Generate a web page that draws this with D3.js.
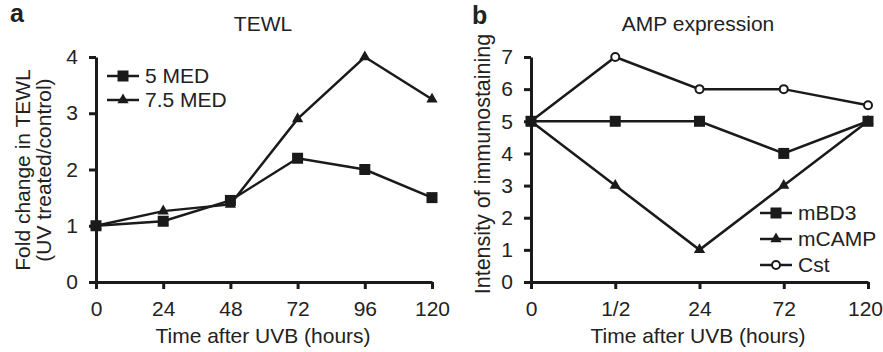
<!DOCTYPE html>
<html>
<head>
<meta charset="utf-8">
<script src="https://cdn.jsdelivr.net/npm/d3@7"></script>
<style>
  body { margin: 0; background: #fff; }
  svg text { font-family: "Liberation Sans", Arial, sans-serif; fill: #222; }
</style>
</head>
<body>
<svg id="chart" width="883" height="352"></svg>
<script>
// panel a data
const hoursA = [0, 24, 48, 72, 96, 120];
const med5 = [1, 1.08, 1.45, 2.2, 2.0, 1.5];
const med75 = [1, 1.26, 1.38, 2.9, 4.0, 3.25];
const ticksA = [0, 1, 2, 3, 4];

// panel b data
const timesB = ['0', '1/2', '24', '72', '120'];
const mBD3 = [5, 5, 5, 4, 5];
const mCAMP = [5, 3, 1, 3, 5];
const cst = [5, 7, 6, 6, 5.5];
const ticksB = [0, 1, 2, 3, 4, 5, 6, 7];

const svg = d3.select('#chart');
const fs = 21;
const stroke = '#1a1a1a';

function drawMarker(g, type, cx, cy) {
    if (type === 'square') {
        g.append('rect').attr('x', cx - 5.5).attr('y', cy - 5.5).attr('width', 11).attr('height', 11)
            .attr('fill', stroke);
    } else if (type === 'triangle') {
        g.append('path').attr('d', d3.symbol().type(d3.symbolTriangle).size(55)())
            .attr('transform', `translate(${cx},${cy})`).attr('fill', stroke);
    } else {
        g.append('circle').attr('cx', cx).attr('cy', cy).attr('r', 4)
            .attr('fill', '#fff').attr('stroke', stroke).attr('stroke-width', 2);
    }
}

function styleAxis(sel) {
    sel.select('.domain').attr('stroke', stroke).attr('stroke-width', 3);
    sel.selectAll('.tick line').attr('stroke', stroke).attr('stroke-width', 3);
    sel.selectAll('.tick text').style('font-size', fs + 'px').attr('fill', '#222');
}

function drawSeries(g, xs, ys, x, y, type) {
    const line = d3.line().x((d, i) => x(xs[i])).y(d => y(d));
    g.append('path').datum(ys).attr('d', line)
        .attr('fill', 'none').attr('stroke', stroke).attr('stroke-width', 2.5);
    ys.forEach((v, i) => drawMarker(g, type, x(xs[i]), y(v)));
}

function legendItem(g, type, lx, ly, label) {
    g.append('line').attr('x1', lx).attr('x2', lx + 32).attr('y1', ly).attr('y2', ly)
        .attr('stroke', stroke).attr('stroke-width', 2.5);
    drawMarker(g, type, lx + 16, ly);
    g.append('text').attr('x', lx + 38).attr('y', ly).attr('dy', '0.35em')
        .style('font-size', fs + 'px').text(label);
}

const fmt = d3.format('d');

// ---------- panel a ----------
const xA = d3.scaleLinear().domain([0, 120]).range([96, 432]);
const yA = d3.scaleLinear().domain([0, 4]).range([282, 57]);
const gA = svg.append('g');

gA.append('g').attr('transform', 'translate(0,282)')
    .call(d3.axisBottom(xA).tickValues(hoursA).tickFormat(fmt).tickSize(7).tickSizeOuter(0).tickPadding(12))
    .call(styleAxis);
gA.append('g').attr('transform', 'translate(96,0)')
    .call(d3.axisLeft(yA).tickValues(ticksA).tickFormat(fmt).tickSize(7).tickSizeOuter(0).tickPadding(11))
    .call(styleAxis);

drawSeries(gA, hoursA, med75, xA, yA, 'triangle');
drawSeries(gA, hoursA, med5, xA, yA, 'square');

legendItem(gA, 'square', 107, 76, '5 MED');
legendItem(gA, 'triangle', 107, 100, '7.5 MED');

gA.append('text').attr('x', 263).attr('y', 31).attr('text-anchor', 'middle')
    .style('font-size', fs + 'px').text('TEWL');
gA.append('text').attr('x', 10).attr('y', 22).style('font-size', '25px')
    .style('font-weight', 'bold').text('a');
gA.append('text').attr('x', 263).attr('y', 343).attr('text-anchor', 'middle')
    .style('font-size', fs + 'px').text('Time after UVB (hours)');
gA.append('text').attr('transform', 'translate(30,170) rotate(-90)').attr('text-anchor', 'middle')
    .style('font-size', fs + 'px').text('Fold change in TEWL');
gA.append('text').attr('transform', 'translate(51,170) rotate(-90)').attr('text-anchor', 'middle')
    .style('font-size', fs + 'px').text('(UV treated/control)');

// ---------- panel b ----------
const xB = d3.scalePoint().domain(timesB).range([531, 868]);
const yB = d3.scaleLinear().domain([0, 7]).range([282, 57]);
const gB = svg.append('g');

const xAxisB = gB.append('g').attr('transform', 'translate(0,282)')
    .call(d3.axisBottom(xB).tickSize(7).tickSizeOuter(0).tickPadding(12))
    .call(styleAxis);
// keep the last label inside the page
xAxisB.selectAll('.tick text').filter(d => d === '120').attr('dx', -3);
gB.append('g').attr('transform', 'translate(531,0)')
    .call(d3.axisLeft(yB).tickValues(ticksB).tickFormat(fmt).tickSize(7).tickSizeOuter(0).tickPadding(11))
    .call(styleAxis);

drawSeries(gB, timesB, cst, xB, yB, 'circle');
drawSeries(gB, timesB, mCAMP, xB, yB, 'triangle');
drawSeries(gB, timesB, mBD3, xB, yB, 'square');

legendItem(gB, 'square', 760, 213, 'mBD3');
legendItem(gB, 'triangle', 760, 239, 'mCAMP');
legendItem(gB, 'circle', 760, 265, 'Cst');

gB.append('text').attr('x', 698).attr('y', 31).attr('text-anchor', 'middle')
    .style('font-size', fs + 'px').text('AMP expression');
gB.append('text').attr('x', 472).attr('y', 24).style('font-size', '25px')
    .style('font-weight', 'bold').text('b');
gB.append('text').attr('x', 698).attr('y', 343).attr('text-anchor', 'middle')
    .style('font-size', fs + 'px').text('Time after UVB (hours)');
gB.append('text').attr('transform', 'translate(490,164) rotate(-90)').attr('text-anchor', 'middle')
    .style('font-size', '21.5px').text('Intensity of immunostaining');
</script>
</body>
</html>
